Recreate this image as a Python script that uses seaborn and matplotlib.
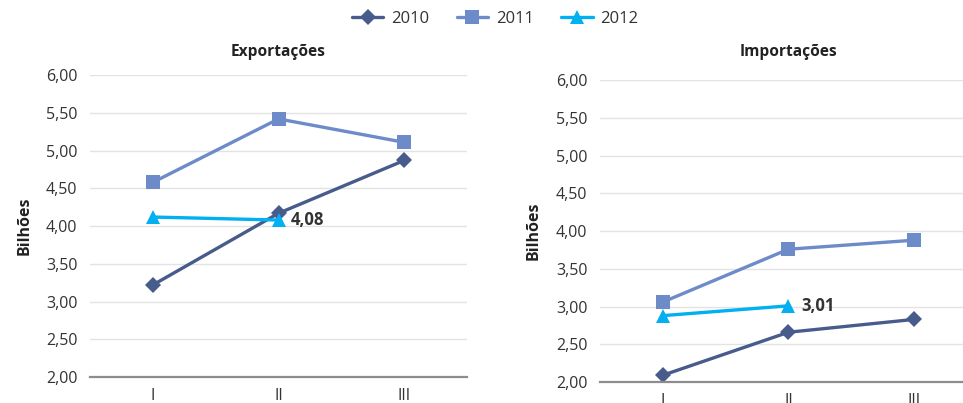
import matplotlib
matplotlib.use("Agg")
import matplotlib.pyplot as plt
import seaborn as sns
import pandas as pd
from matplotlib.lines import Line2D

quarters = ["I", "II", "III"]
years = ["2010", "2011", "2012"]

exp_2010 = [3.22, 4.17, 4.87]
exp_2011 = [4.58, 5.42, 5.11]
exp_2012 = [4.12, 4.08]

imp_2010 = [2.09, 2.66, 2.83]
imp_2011 = [3.06, 3.76, 3.88]
imp_2012 = [2.88, 3.01]

yticks = [2.0, 2.5, 3.0, 3.5, 4.0, 4.5, 5.0, 5.5, 6.0]

colors = {"2010": "#485C8C", "2011": "#6E8BC9", "2012": "#00B0F0"}
markers = {"2010": "D", "2011": "s", "2012": "^"}
msize = {"2010": 8, "2011": 10, "2012": 10}

sns.set_theme(style="white")
plt.rcParams["font.family"] = ["Open Sans", "DejaVu Sans"]

fig = plt.figure(figsize=(9.63, 4.03), dpi=100)
ax1 = fig.add_axes([0.0935, 0.0645, 0.3915, 0.749])
ax2 = fig.add_axes([0.623, 0.052, 0.3915, 0.749])


def draw(ax, series, title, label_val):
    for yr, vals in zip(years, series):
        df = pd.DataFrame({"Trimestre": quarters[:len(vals)], "Valor": vals})
        sns.lineplot(data=df, x="Trimestre", y="Valor", ax=ax, color=colors[yr],
                     marker=markers[yr], markersize=msize[yr], linewidth=2.4,
                     markeredgewidth=0, sort=False)
    ax.set_xlim(-0.5, 2.5)
    ax.set_ylim(2.0, 6.0)
    ax.set_xticks(range(len(quarters)))
    ax.set_xticklabels(quarters)
    ax.set_yticks(yticks)
    ax.set_yticklabels([f"{v:.2f}".replace(".", ",") for v in yticks])
    ax.tick_params(axis="both", labelsize=11.5, colors="#333333", length=0)
    ax.tick_params(axis="y", pad=9)
    ax.tick_params(axis="x", pad=8)
    ax.grid(axis="y", color="#E3E3E3", linewidth=1)
    ax.set_axisbelow(True)
    for s in ["top", "right", "left"]:
        ax.spines[s].set_visible(False)
    ax.spines["bottom"].set_color("#8C8C8C")
    ax.spines["bottom"].set_linewidth(1.6)
    ax.set_xlabel("")
    ax.set_ylabel("Bilhões", fontsize=11.5, fontweight="bold", color="#222222", labelpad=10)
    pos = ax.get_position()
    fig.text(pos.x0 + pos.width / 2, 1 - 52 / 403, title, ha="center", va="center",
             fontsize=11.2, fontweight="bold", color="#222222")
    n = len(series[2]) - 1
    ax.annotate(f"{label_val:.2f}".replace(".", ","), (n, label_val),
                xytext=(9, 0), textcoords="offset points", va="center",
                fontsize=12, fontweight="bold", color="#333333")


draw(ax1, [exp_2010, exp_2011, exp_2012], "Exportações", exp_2012[-1])
draw(ax2, [imp_2010, imp_2011, imp_2012], "Importações", imp_2012[-1])

handles = [Line2D([0], [0], color=colors[y], marker=markers[y], markersize=msize[y],
                  linewidth=2.4, markeredgewidth=0) for y in years]
fig.legend(handles, years, loc="center", bbox_to_anchor=(0.514, 0.953), ncol=3,
           frameon=False, fontsize=12, handlelength=1.9, columnspacing=1.65,
           handletextpad=0.45, labelcolor="#333333")

fig.savefig("out.png", dpi=100)
